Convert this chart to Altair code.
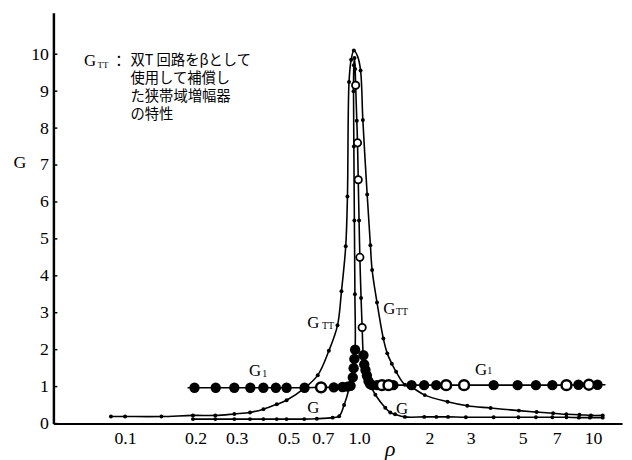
import altair as alt
import pandas as pd

# ---------------- data ----------------
# G_TT : wide resonance curve
gtt_rho = [0.087, 0.1, 0.143, 0.195, 0.243, 0.293, 0.342, 0.39, 0.445, 0.49, 0.583,
           0.666, 0.743, 0.809, 0.841, 0.877, 0.892, 0.906, 0.925, 0.95, 0.985, 1.015,
           1.038, 1.083, 1.118, 1.137, 1.193, 1.27, 1.32, 1.38, 1.44, 1.57, 1.68, 1.91,
           2.39, 2.9, 3.65, 4.82, 5.74, 6.75, 7.69, 8.75, 9.8, 11.0]
gtt_val = [0.19, 0.19, 0.19, 0.22, 0.22, 0.26, 0.30, 0.39, 0.52, 0.63, 0.95,
           1.31, 1.97, 2.66, 3.58, 4.8, 6.15, 9.25, 9.85, 10.1, 9.95, 9.56,
           8.22, 6.2, 4.83, 4.16, 3.28, 2.3, 1.9, 1.62, 1.4, 1.05, 0.98, 0.77,
           0.59, 0.48, 0.42, 0.35, 0.31, 0.28, 0.25, 0.24, 0.22, 0.22]

# G : narrow peak (path order matters near the peak)
g_rho = [0.195, 0.243, 0.293, 0.342, 0.39, 0.445, 0.49, 0.583, 0.66, 0.771, 0.822,
         0.863, 0.906, 0.936, 0.951, 0.962, 0.96, 0.955, 0.95, 0.947, 0.95, 0.956,
         0.962, 0.967, 0.978, 0.985, 0.992, 1.0, 1.008, 1.02, 1.031, 1.044, 1.065,
         1.097, 1.174, 1.294, 1.36, 1.426, 1.57, 1.9, 2.14, 2.4, 2.86, 3.76, 4.8,
         5.7, 6.7, 7.7, 8.7, 9.7, 11.0]
g_val = [0.12, 0.12, 0.12, 0.12, 0.12, 0.12, 0.12, 0.12, 0.13, 0.16, 0.2,
         0.5, 0.95, 1.49, 1.8, 2.05, 3.5, 5.5, 7.5, 9.0, 9.7, 9.9,
         9.6, 9.16, 8.2, 7.6, 6.6, 5.5, 4.5, 3.4, 2.6, 1.8, 1.5,
         1.15, 0.78, 0.43, 0.3, 0.25, 0.18, 0.18, 0.18, 0.18, 0.17, 0.17, 0.17,
         0.17, 0.17, 0.17, 0.16, 0.16, 0.16]
g_open_rho = [0.967, 0.985, 0.992, 1.008, 1.031]
g_open_val = [9.16, 7.6, 6.6, 4.5, 2.6]

# G1 : flat curve, two branches
g1_left_rho = [0.185, 0.198, 0.244, 0.293, 0.343, 0.39, 0.441, 0.49, 0.585, 0.688,
               0.78, 0.85, 0.892, 0.92, 0.94, 0.948, 0.955, 0.962]
g1_left_val = [0.97, 0.97, 0.97, 0.97, 0.97, 0.97, 0.97, 0.97, 0.97, 0.98,
               0.98, 0.99, 1.0, 1.02, 1.25, 1.5, 1.75, 2.0]
g1_right_rho = [1.044, 1.052, 1.065, 1.08, 1.097, 1.115, 1.137, 1.193, 1.253, 1.336,
                1.402, 1.676, 1.897, 2.137, 2.356, 2.81, 3.76, 4.76, 5.7, 6.7, 7.7,
                8.66, 9.6, 10.45, 11.3]
g1_right_val = [1.85, 1.6, 1.45, 1.3, 1.15, 1.07, 1.04, 1.04, 1.04, 1.04,
                1.04, 1.04, 1.04, 1.04, 1.04, 1.04, 1.04, 1.04, 1.04, 1.04, 1.04,
                1.05, 1.05, 1.05, 1.05]
g1_open_rho = [0.688, 1.253, 1.336, 2.356, 2.81, 7.7, 9.6]

x_ticks = [0.1, 0.2, 0.3, 0.5, 0.7, 1.0, 2, 3, 5, 7, 10]
y_ticks = [0, 1, 2, 3, 4, 5, 6, 7, 8, 9, 10]

# curve labels
lab_text = ["G", "G", "G", "G", "G", "G"]
lab_rho = [0.637, 1.345, 0.359, 3.32, 0.637, 1.526]
lab_val = [2.72, 3.09, 1.43, 1.46, 0.415, 0.39]
sub_text = ["TT", "TT", "1", "1"]
sub_rho = [0.736, 1.526, 0.395, 3.62]
sub_val = [2.64, 3.01, 1.35, 1.41]

# note block (one multi-line text)
note_lines = ["双T 回路をβとして", "使用して補償し", "た狭帯域増幅器", "の特性"]
note_rho = 0.1055
note_val = 9.81

XMIN, XMAX = 0.0494, 13.3
YMAX = 11.12

# ---------------- build tables ----------------
def path(name, rho, val):
    return pd.DataFrame({"rho": rho, "G": val, "series": name, "i": list(range(len(rho)))})

lines_df = pd.concat([
    path("GTT", gtt_rho, gtt_val),
    path("G", g_rho, g_val),
    path("G1a", g1_left_rho, g1_left_val),
    path("G1b", g1_right_rho, g1_right_val),
], ignore_index=True)

small_df = pd.concat([
    pd.DataFrame({"rho": gtt_rho, "G": gtt_val}),
    pd.DataFrame({"rho": g_rho, "G": g_val}),
], ignore_index=True)
small_df = small_df[~small_df["rho"].isin(g_open_rho) | (small_df["G"] < 1)]

g1_all = pd.DataFrame({"rho": g1_left_rho[1:] + g1_right_rho[:-1],
                       "G": g1_left_val[1:] + g1_right_val[:-1]})
g1_filled = g1_all[~g1_all["rho"].isin(g1_open_rho)]
g1_open = g1_all[g1_all["rho"].isin(g1_open_rho)]
g_open_df = pd.DataFrame({"rho": g_open_rho, "G": g_open_val})

lab_df = pd.DataFrame({"t": lab_text, "rho": lab_rho, "G": lab_val})
sub_df = pd.DataFrame({"t": sub_text, "rho": sub_rho, "G": sub_val})
note_df = pd.DataFrame({"t": ["\n".join(note_lines)], "rho": [note_rho], "G": [note_val]})
ytick_df = pd.DataFrame({"G": y_ticks})

SERIF = "Liberation Serif"
CJK = "Noto Sans CJK JP"

X = alt.X("rho:Q",
          scale=alt.Scale(type="log", domain=[XMIN, XMAX], nice=False),
          axis=alt.Axis(values=x_ticks, title=None, grid=False, ticks=False,
                        labelExpr="datum.value < 0.95 ? format(datum.value, '.1f') : (datum.value < 1.05 ? '1.0' : format(datum.value, 'd'))",
                        labelFont=SERIF, labelFontSize=18, labelColor="black",
                        labelPadding=6, labelOverlap=False, labelFlush=False,
                        domainColor="black", domainWidth=2))
Y = alt.Y("G:Q",
          scale=alt.Scale(domain=[0, YMAX], nice=False, zero=False),
          axis=alt.Axis(values=y_ticks, title=None, grid=False, ticks=False,
                        labelFont=SERIF, labelFontSize=18, labelColor="black",
                        labelPadding=5, domainColor="black", domainWidth=2.5))

lines = alt.Chart(lines_df).mark_line(color="black", strokeWidth=1.6,
                                      interpolate="catmull-rom").encode(
    x=X, y=Y, detail="series:N", order="i:Q")

yticks_in = alt.Chart(ytick_df).mark_rule(color="black", strokeWidth=1.5).encode(
    y=Y, x=alt.value(0), x2=alt.value(4))

small = alt.Chart(small_df).mark_circle(color="black", size=16, opacity=1).encode(x=X, y=Y)
big = alt.Chart(g1_filled).mark_circle(color="black", size=110, opacity=1).encode(x=X, y=Y)
big_open = alt.Chart(g1_open).mark_point(shape="circle", color="black", fill="white",
                                         filled=False, size=100, strokeWidth=2.5,
                                         opacity=1).encode(x=X, y=Y)
g_open = alt.Chart(g_open_df).mark_point(shape="circle", color="black", fill="white",
                                         size=55, strokeWidth=1.8, opacity=1).encode(x=X, y=Y)

labels = alt.Chart(lab_df).mark_text(font=SERIF, fontSize=17, color="black",
                                     align="center", baseline="middle").encode(
    x=X, y=Y, text="t:N")
subs = alt.Chart(sub_df).mark_text(font=SERIF, fontSize=10, color="black",
                                   align="center", baseline="middle").encode(
    x=X, y=Y, text="t:N")

note = alt.Chart(note_df).mark_text(font=CJK, fontSize=14.5, color="black",
                                    align="left", baseline="middle",
                                    lineBreak="\n", lineHeight=18.3).encode(
    x=X, y=Y, text="t:N")
note_head = alt.Chart(pd.DataFrame({"t": ["G"], "rho": [0.0708], "G": [9.81]})).mark_text(
    font=SERIF, fontSize=17, color="black", align="center", baseline="middle").encode(
    x=X, y=Y, text="t:N")
note_sub = alt.Chart(pd.DataFrame({"t": ["TT"], "rho": [0.0804], "G": [9.70]})).mark_text(
    font=SERIF, fontSize=9, color="black", align="center", baseline="middle").encode(
    x=X, y=Y, text="t:N")
note_colon = alt.Chart(pd.DataFrame({"t": ["："], "rho": [0.094], "G": [9.81]})).mark_text(
    font=CJK, fontSize=15, color="black", align="center", baseline="middle").encode(
    x=X, y=Y, text="t:N")

ytitle = alt.Chart(pd.DataFrame({"t": ["G"], "rho": [0.0355], "G": [7.05]})).mark_text(
    font=SERIF, fontSize=18, color="black", align="center", baseline="middle").encode(
    x=X, y=Y, text="t:N")
xtitle = alt.Chart(pd.DataFrame({"t": ["ρ"], "rho": [1.36], "G": [-0.68]})).mark_text(
    font=SERIF, fontSize=22, fontStyle="italic", color="black", align="center",
    baseline="middle").encode(x=X, y=Y, text="t:N")

chart = alt.layer(lines, yticks_in, small, big, big_open, g_open, labels, subs, note,
                  note_head, note_sub, note_colon, ytitle, xtitle).properties(
    width=576, height=416,
    padding={"left": 46, "top": 2, "right": 2, "bottom": 34},
    autosize="none",
    background="white",
).configure_view(stroke=None)

chart.save("out.html", embed_options={"renderer": "svg", "actions": False})
